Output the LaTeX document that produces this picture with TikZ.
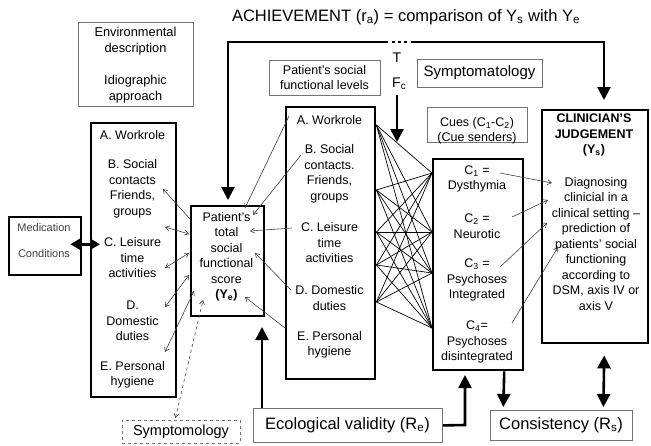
\documentclass[tikz,border=0pt]{standalone}
\usepackage{fontspec}
\setmainfont{Liberation Sans}
\usetikzlibrary{arrows.meta,calc}
\begin{document}
\begin{tikzpicture}[x=1pt,y=-1pt,
 thickbox/.style={draw, line width=2.4pt, inner sep=0pt, anchor=north west},
 thinbox/.style={draw=black!55, line width=0.8pt, inner sep=0pt, anchor=north west},
 txt/.style={font=\fontsize{12.5}{15.5}\selectfont, align=center, inner sep=0pt},
 bigl/.style={line width=2.6pt, >={Triangle[width=13pt,length=13pt]}},
 tline/.style={line width=0.6pt, draw=black!75, >={Straight Barb[length=4pt,width=5pt]}},
 crossl/.style={line width=0.7pt, draw=black}]
\useasboundingbox (0,0) rectangle (651,445);

% ---------- boxes ----------
\node[thinbox, minimum width=115pt, minimum height=84pt] (env) at (78,22) {};
\node[thinbox, minimum width=111pt, minimum height=35pt, anchor=center, txt] (psfl) at (324.5,77.5) {Patient’s social\\functional levels};
\node[thinbox, minimum width=125pt, minimum height=28pt] (symp) at (417,59) {};
\node[thinbox, minimum width=100pt, minimum height=35pt] (cues) at (427,107) {};
\node[thickbox, minimum width=85pt, minimum height=274pt] (left) at (90,122) {};
\node[thickbox, minimum width=73pt, minimum height=110pt] (ye) at (190,205) {};
\node[thickbox, minimum width=89pt, minimum height=272pt] (mid) at (285,106) {};
\node[thickbox, minimum width=90pt, minimum height=211pt] (cin) at (432,158) {};
\node[thickbox, minimum width=106pt, minimum height=233pt] (clin) at (541,109) {};
\node[thickbox, minimum width=72pt, minimum height=58pt] (med) at (8,216) {};
\node[thinbox, minimum width=189pt, minimum height=34pt] (eco) at (253,408) {};
\node[thinbox, minimum width=142pt, minimum height=30pt] (cons) at (490,410) {};
\node[thinbox, dashed, minimum width=118pt, minimum height=23pt] (symd) at (122,420) {};

% ---------- texts ----------
\node[font=\fontsize{16.5}{19}\selectfont, inner sep=0pt] (title) at (406,17)
  {ACHIEVEMENT (r\textsubscript{a}) = comparison of Y\textsubscript{s} with Y\textsubscript{e}};
\node[txt, font=\fontsize{12.8}{16}\selectfont] (envA) at (135.5,41) {Environmental\\description};
\node[txt, font=\fontsize{12.8}{16}\selectfont] (envB) at (135.5,89) {Idiographic\\approach};
\node[font=\fontsize{15}{18}\selectfont, inner sep=0pt] (sympt) at (479.5,73) {Symptomatology};
\node[txt] (cuest) at (477,131) {Cues (C\textsubscript{1}-C\textsubscript{2})\\(Cue senders)};
\node[font=\fontsize{14}{16}\selectfont, inner sep=0pt] (T) at (397,58) {T};
\node[font=\fontsize{14}{16}\selectfont, inner sep=0pt, anchor=west] (Fc) at (392,84) {F\textsubscript{c}};

\node[font=\fontsize{11}{26}\selectfont, align=center, text=black!75, inner sep=0pt] (medt) at (44,241) {Medication\\Conditions};

\node[txt] (lA) at (132.5,135) {A. Workrole};
\node[txt] (lB) at (132.5,189) {B. Social\\contacts\\Friends,\\groups};
\node[txt] (lC) at (132.5,258) {C. Leisure\\time\\activities};
\node[txt] (lD) at (132.5,321) {D.\\Domestic\\duties};
\node[txt] (lE) at (132.5,375) {E. Personal\\hygiene};

\node[txt] (yet) at (226.5,257) {Patient’s\\total\\social\\functional\\score\\\textbf{(Y\textsubscript{e})}};

\node[txt] (mA) at (329.5,120) {A. Workrole};
\node[txt] (mB) at (329.5,174) {B. Social\\contacts.\\Friends,\\groups};
\node[txt] (mC) at (329.5,243) {C. Leisure\\time\\activities};
\node[txt] (mD) at (329.5,298) {D. Domestic\\duties};
\node[txt] (mE) at (329.5,345) {E. Personal\\hygiene};

\node[txt] (c1) at (477,179) {C\textsubscript{1} =\\Dysthymia};
\node[txt] (c2) at (477,226) {C\textsubscript{2} =\\Neurotic};
\node[txt] (c3) at (477,280) {C\textsubscript{3} =\\Psychoses\\Integrated};
\node[txt] (c4) at (477,342) {C\textsubscript{4}=\\Psychoses\\disintegrated};

\node[txt, font=\fontsize{12.5}{15.5}\selectfont\bfseries] (clinh) at (594,135) {CLINICIAN’S\\JUDGEMENT\\(Y\textsubscript{s})};
\node[txt] (clint) at (596,244) {Diagnosing\\clinicial in a\\clinical setting –\\prediction of\\patients’ social\\functioning\\according to\\DSM, axis IV or\\axis V};

\node[font=\fontsize{16.5}{19}\selectfont, inner sep=0pt] (ecot) at (347.5,425) {Ecological validity (R\textsubscript{e})};
\node[font=\fontsize{16.5}{19}\selectfont, inner sep=0pt] (const) at (561,425) {Consistency (R\textsubscript{s})};
\node[font=\fontsize{14.5}{17}\selectfont, inner sep=0pt] (symdt) at (181,432) {Symptomology};

% ---------- top achievement line ----------
\coordinate (tl) at (228,42);
\coordinate (d1) at (388,42);
\coordinate (d2) at (392,42);
\coordinate (d3) at (408,42);
\coordinate (d4) at (411,42);
\coordinate (tr) at (604,42);
\draw[bigl,->] (d1) -- (tl) -- ([yshift=5pt]ye.north -| tl);
\draw[bigl,->] (d4) -- (tr) -- ([yshift=9pt]clin.north -| tr);
\draw[line width=2.6pt, dash pattern=on 3pt off 3pt] (d2) -- (d3);

% F_c arrow
\coordinate (fcs) at (397,95);
\coordinate (fce) at (397,142);
\draw[bigl,->] (fcs) -- (fce);

% medication arrow
\draw[line width=2.6pt, <->, >={Triangle[width=11pt,length=10pt]}]
  ([xshift=-12pt,yshift=2pt]med.east) -- ([xshift=10pt,yshift=2pt]med.east -| left.west);

% ecological validity arrows
\coordinate (ecoTip) at (262,327);
\draw[bigl,->] ([xshift=9pt]eco.north west) -- (ecoTip);
\coordinate (elb) at (465,425);
\coordinate (elbTip) at (465,375);
\draw[bigl,->] (eco.east) -- (elb) -- (elbTip);

% cues -> consistency, clinician <-> consistency
\draw[bigl,->] ([xshift=26pt]cin.south) -- ([xshift=-58pt,yshift=3pt]cons.north);
\draw[bigl,<->] ([xshift=9pt,yshift=-11pt]clin.south) -- ([xshift=42pt,yshift=3pt]cons.north);

% ---------- thin arrows left box <-> Ye ----------
\coordinate (l1a) at (163,189); \coordinate (l1b) at (190,219);
\coordinate (l2a) at (165,227); \coordinate (l2b) at (189,234);
\coordinate (l3a) at (165,268); \coordinate (l3b) at (189,253);
\coordinate (l4a) at (165,307); \coordinate (l4b) at (189,275);
\coordinate (l5a) at (165,352); \coordinate (l5b) at (194,291);
\draw[tline,<-] (l1a) -- (l1b);
\draw[tline,<->] (l2a) -- (l2b);
\draw[tline,<->] (l3a) -- (l3b);
\draw[tline,<->] (l4a) -- (l4b);
\draw[tline,<->] (l5a) -- (l5b);

% ---------- thin arrows middle box -> Ye ----------
\coordinate (m1a) at (289,116); \coordinate (m1b) at (245,208);
\coordinate (m2a) at (301,155); \coordinate (m2b) at (253,215);
\coordinate (m3a) at (292,228); \coordinate (m3b) at (250,231);
\coordinate (m4a) at (291,290); \coordinate (m4b) at (255,253);
\coordinate (m5a) at (285,328); \coordinate (m5b) at (245,297);
\draw[tline,->] (m1a) -- (m1b);
\draw[tline,->] (m2a) -- (m2b);
\draw[tline,->] (m3a) -- (m3b);
\draw[tline,->] (m4a) -- (m4b);
\draw[tline,->] (m5a) -- (m5b);

% ---------- cross lines middle box -> cues ----------
\foreach \s in {125,190,232,265,302}
  \foreach \t in {173,232,273,328}
    \draw[crossl] ([yshift={106-\s}]mid.north east) -- ([yshift={158-\t}]cin.north west);

% ---------- cues -> clinician ----------
\coordinate (k1a) at (500,173); \coordinate (k1b) at (552,183);
\coordinate (k2a) at (512,217); \coordinate (k2b) at (548,200);
\coordinate (k3a) at (500,267); \coordinate (k3b) at (547,223);
\coordinate (k4a) at (512,323); \coordinate (k4b) at (558,247);
\draw[tline,->] (k1a) -- (k1b);
\draw[tline,->] (k2a) -- (k2b);
\draw[tline,->] (k3a) -- (k3b);
\draw[tline,->] (k4a) -- (k4b);

% ---------- dashed symptomology arrow ----------
\coordinate (symTip) at (203,300);
\draw[tline, dashed, <->] ([xshift=-6pt,yshift=2pt]symd.north) -- (symTip);
\end{tikzpicture}
\end{document}
